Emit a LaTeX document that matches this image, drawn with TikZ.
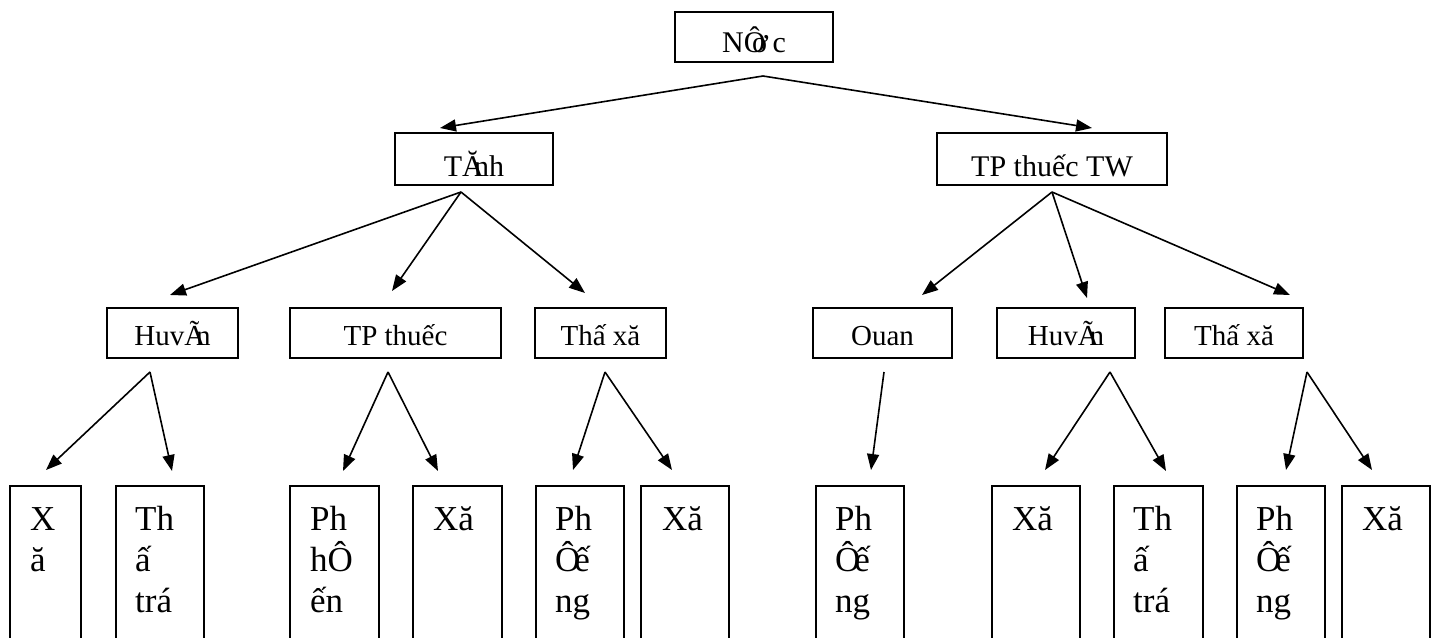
\documentclass[tikz,border=0pt]{standalone}
\usepackage{fontspec}
\setmainfont{Liberation Serif}
\usetikzlibrary{arrows.meta}
\newcommand{\ovl}[2]{\rlap{#1}\kern#2}
\begin{document}
\begin{tikzpicture}[x=1pt,y=-1pt,
  box/.style={draw, line width=1.5pt, inner sep=0pt},
  topbox/.style={box, font=\fontsize{30}{34}\selectfont, text height=34pt, text depth=4pt},
  lvltwo/.style={box, font=\fontsize{30}{34}\selectfont, text height=38pt, text depth=4pt, minimum height=52pt},
  lvlthree/.style={box, font=\fontsize{29}{33}\selectfont, text height=32pt, text depth=8pt, minimum height=50pt},
  leaf/.style={box, anchor=north west, minimum height=180pt},
  leaftext/.style={anchor=base west, inner sep=0pt, font=\fontsize{35}{41}\selectfont},
  arr/.style={line width=1.6pt, -{Triangle[length=16pt,width=12pt]}}
]
\useasboundingbox (0,0) rectangle (1437,637);
\fill[white] (0,0) rectangle (1437,637);

% level 1 and 2
\node[topbox, minimum width=158pt, minimum height=50pt] (nuoc) at (754,37) {N\ovl{Ô}{0.28em}ơ\kern0.15em c};
\node[lvltwo, minimum width=158pt] (tinh) at (474,159) {T\ovl{Ă}{0.4em}nh};
\node[lvltwo, minimum width=230pt] (tptw) at (1052,159) {TP thuếc TW};

% level 3
\node[lvlthree, minimum width=131pt] (huyena) at (172.5,333) {Huv\ovl{Ã}{0.4em}n};
\node[lvlthree, minimum width=211pt] (tpthuoc) at (395.5,333) {TP thuếc};
\node[lvlthree, minimum width=131pt] (thixaa) at (600.5,333) {Thấ xă};
\node[lvlthree, minimum width=139pt] (quan) at (882.5,333) {Ouan};
\node[lvlthree, minimum width=138pt] (huyenb) at (1066,333) {Huv\ovl{Ã}{0.4em}n};
\node[lvlthree, minimum width=138pt] (thixab) at (1234,333) {Thấ xă};

% leaves
\node[leaf, minimum width=71pt] (la) at (9,485) {};
\node[leaf, minimum width=88pt] (lb) at (115,485) {};
\node[leaf, minimum width=89pt] (lc) at (289,485) {};
\node[leaf, minimum width=89pt] (ld) at (412,485) {};
\node[leaf, minimum width=88pt] (le) at (535,485) {};
\node[leaf, minimum width=88pt] (lf) at (640,485) {};
\node[leaf, minimum width=88pt] (lg) at (815,485) {};
\node[leaf, minimum width=88pt] (lh) at (991,485) {};
\node[leaf, minimum width=89pt] (li) at (1113,485) {};
\node[leaf, minimum width=88pt] (lj) at (1236,485) {};
\node[leaf, minimum width=88pt] (lk) at (1341,485) {};

\node[leaftext] (tla) at (30,530) {\parbox[t]{60pt}{X\\ă}};
\node[leaftext] (tlb) at (135,530) {\parbox[t]{60pt}{Th\\ấ\\trá}};
\node[leaftext] (tlc) at (310,530) {\parbox[t]{60pt}{Ph\\hÔ\\ến}};
\node[leaftext] (tld) at (433,530) {Xă};
\node[leaftext] (tle) at (555,530) {\parbox[t]{60pt}{Ph\\\ovl{Ô}{0.55em}ế\\ng}};
\node[leaftext] (tlf) at (662,530) {Xă};
\node[leaftext] (tlg) at (835,530) {\parbox[t]{60pt}{Ph\\\ovl{Ô}{0.55em}ế\\ng}};
\node[leaftext] (tlh) at (1012,530) {Xă};
\node[leaftext] (tli) at (1133,530) {\parbox[t]{60pt}{Th\\ấ\\trá}};
\node[leaftext] (tlj) at (1256,530) {\parbox[t]{60pt}{Ph\\\ovl{Ô}{0.55em}ế\\ng}};
\node[leaftext] (tlk) at (1362,530) {Xă};

% arrow origins and tips
\coordinate (o1) at (763,76);
\coordinate (e1a) at (440,128);
\coordinate (e1b) at (1092,128);
\coordinate (o2) at (461,192);
\coordinate (e2a) at (170,295);
\coordinate (e2b) at (392,291);
\coordinate (e2c) at (585,293);
\coordinate (o3) at (1052,192);
\coordinate (e3a) at (922,295);
\coordinate (e3b) at (1087,298);
\coordinate (e3c) at (1290,295);
\coordinate (o4) at (150,372);
\coordinate (e4a) at (46,470);
\coordinate (e4b) at (172,471);
\coordinate (o5) at (388,372);
\coordinate (e5a) at (343,471);
\coordinate (e5b) at (438,471);
\coordinate (o6) at (605,372);
\coordinate (e6a) at (573,470);
\coordinate (e6b) at (672,470);
\coordinate (o7) at (884,372);
\coordinate (e7a) at (871,470);
\coordinate (o8) at (1110,372);
\coordinate (e8a) at (1045,470);
\coordinate (e8b) at (1166,471);
\coordinate (o9) at (1307,372);
\coordinate (e9a) at (1286,470);
\coordinate (e9b) at (1372,470);

\foreach \o/\e in {o1/e1a,o1/e1b,o2/e2a,o2/e2b,o2/e2c,o3/e3a,o3/e3b,o3/e3c,
  o4/e4a,o4/e4b,o5/e5a,o5/e5b,o6/e6a,o6/e6b,o7/e7a,o8/e8a,o8/e8b,o9/e9a,o9/e9b}
  \draw[arr] (\o) -- (\e);
\end{tikzpicture}
\end{document}
